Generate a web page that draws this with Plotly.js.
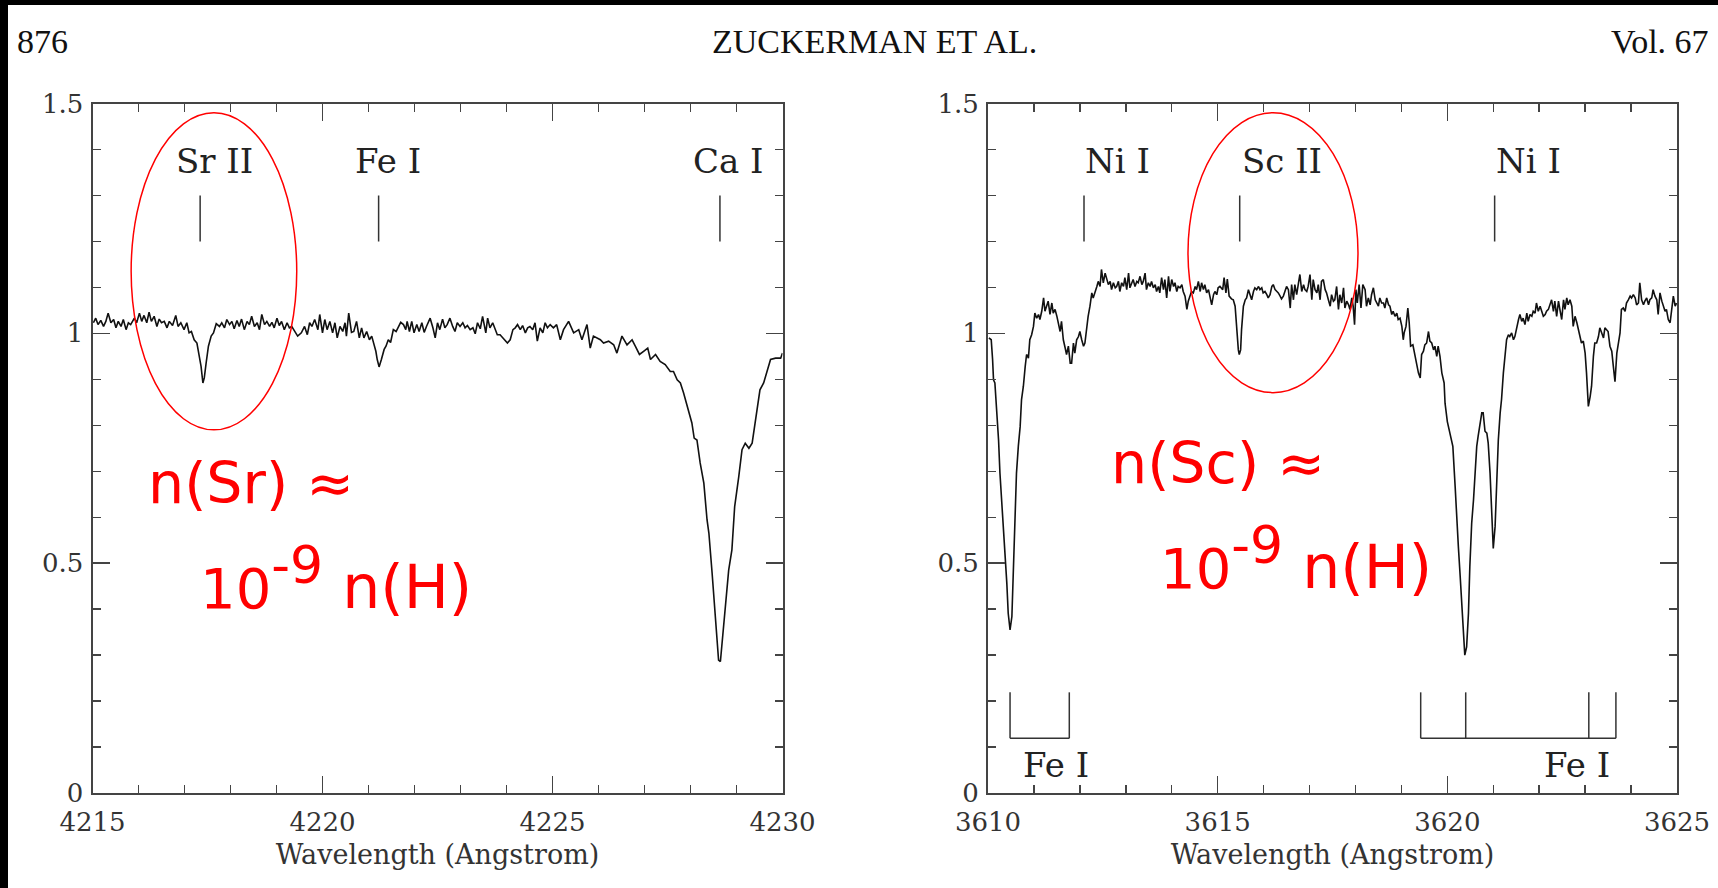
<!DOCTYPE html>
<html>
<head>
<meta charset="utf-8">
<script src="https://cdn.plot.ly/plotly-3.0.1.min.js"></script>
<style>
  html, body { margin: 0; padding: 0; background: #ffffff; }
  #chart { width: 1718px; height: 888px; }
</style>
</head>
<body>
<div id="chart"></div>
<script>
// ---------- Left panel: 4215-4230 A spectrum ----------
const lamL = [
4215.02,4215.07,4215.12,4215.18,4215.24,4215.29,4215.34,4215.40,4215.46,4215.51,
4215.56,4215.62,4215.67,4215.73,4215.78,4215.83,4215.91,4215.96,4216.02,4216.07,
4216.12,4216.18,4216.23,4216.28,4216.34,4216.40,4216.45,4216.50,4216.56,4216.62,
4216.67,4216.74,4216.81,4216.86,4216.92,4216.99,4217.05,4217.10,4217.15,4217.21,
4217.27,4217.32,4217.36,4217.40,4217.43,4217.47,4217.52,4217.58,4217.63,4217.69,
4217.76,4217.81,4217.87,4217.92,4217.98,4218.03,4218.08,4218.14,4218.19,4218.24,
4218.30,4218.36,4218.41,4218.46,4218.52,4218.58,4218.63,4218.68,4218.74,4218.79,
4218.85,4218.90,4218.95,4219.01,4219.06,4219.11,4219.17,4219.23,4219.28,4219.33,
4219.39,4219.46,4219.54,4219.61,4219.67,4219.72,4219.77,4219.83,4219.90,
4219.94,4220.00,4220.05,4220.10,4220.16,4220.22,4220.27,4220.32,4220.38,4220.44,
4220.49,4220.52,4220.57,4220.63,4220.68,4220.74,4220.80,4220.85,4220.90,4220.96,
4221.02,4221.07,4221.12,4221.16,4221.19,4221.23,4221.28,4221.34,4221.38,4221.43,
4221.48,4221.54,4221.60,4221.65,4221.70,4221.76,4221.81,4221.84,4221.89,4221.94,
4221.99,4222.05,4222.10,4222.16,4222.21,4222.26,4222.34,4222.40,4222.45,4222.50,
4222.55,4222.61,4222.66,4222.71,4222.77,4222.83,4222.88,4222.93,4222.99,4223.05,
4223.10,4223.15,4223.21,4223.27,4223.32,4223.37,4223.43,4223.48,4223.55,4223.59,
4223.64,4223.70,4223.75,4223.80,4223.86,4223.92,4223.97,4224.02,4224.08,4224.14,
4224.19,4224.24,4224.30,4224.35,4224.41,4224.46,4224.51,4224.57,4224.62,4224.67,
4224.73,4224.79,4224.84,4224.89,
4224.95,4225.02,4225.09,4225.17,4225.24,4225.35,4225.46,4225.57,4225.64,4225.75,
4225.82,4225.89,4226.04,4226.11,4226.22,4226.33,4226.40,4226.51,4226.62,4226.73,
4226.80,4226.89,4226.98,4227.07,4227.13,4227.24,4227.34,4227.45,4227.56,4227.63,
4227.71,4227.78,4227.85,4227.91,4227.96,4228.03,4228.08,4228.14,4228.21,4228.29,
4228.36,4228.40,4228.47,4228.54,4228.61,4228.65,4228.71,4228.78,4228.83,4228.90,
4228.96,4229.05,4229.12,4229.19,4229.27,4229.34,4229.38,4229.45,4229.51,4229.59,
4229.65,4229.74,4229.85,4229.96,4230.00
];
const fluxL = [
1.023,1.033,1.019,1.028,1.015,1.026,1.044,1.023,1.030,1.012,
1.026,1.015,1.030,1.008,1.023,1.019,1.033,1.023,1.044,1.026,
1.039,1.023,1.046,1.026,1.037,1.015,1.031,1.023,1.026,1.012,
1.026,1.017,1.039,1.015,1.023,1.008,1.023,1.001,1.004,0.986,
0.979,0.950,0.928,0.892,0.903,0.935,0.972,0.994,1.001,1.021,
1.015,1.023,1.012,1.030,1.019,1.026,1.010,1.028,1.015,1.031,
1.008,1.026,1.019,1.037,1.015,1.023,1.008,1.041,1.019,1.026,
1.015,1.024,1.012,1.033,1.017,1.026,1.008,1.023,1.012,1.015,
1.004,0.994,1.001,1.015,0.997,1.023,1.015,1.030,1.008,
1.041,1.001,1.030,1.008,1.026,1.001,1.023,0.990,1.015,1.004,
1.023,0.994,1.044,1.002,1.004,1.026,0.990,1.012,0.990,1.004,
0.986,0.994,0.975,0.961,0.943,0.927,0.943,0.965,0.972,0.986,
0.980,1.008,1.004,1.015,1.024,1.019,1.008,1.026,1.004,1.026,
1.001,1.019,1.004,1.023,1.002,1.015,1.033,1.012,0.990,1.023,
1.008,1.031,1.012,1.019,1.033,1.015,1.004,1.023,1.015,1.023,
1.012,1.017,1.008,1.012,0.999,1.023,1.010,1.037,1.001,1.033,
1.012,1.023,1.008,0.997,0.997,0.990,0.986,0.979,0.986,1.008,
1.012,1.019,1.008,1.017,1.001,1.012,1.015,1.008,1.023,0.983,
1.012,1.001,1.023,1.012,
1.019,1.012,1.019,0.986,1.008,1.026,1.001,1.008,0.986,1.019,
0.968,0.994,0.986,0.979,0.983,0.975,0.957,0.994,0.975,0.986,
0.972,0.954,0.961,0.968,0.943,0.954,0.939,0.932,0.917,0.917,
0.899,0.892,0.870,0.848,0.834,0.805,0.772,0.768,0.718,0.674,
0.594,0.565,0.478,0.376,0.289,0.286,0.355,0.427,0.485,0.529,
0.623,0.689,0.747,0.761,0.750,0.761,0.790,0.837,0.877,0.892,
0.914,0.943,0.946,0.946,0.957
];

// ---------- Right panel: 3610-3625 A spectrum ----------
const lamR = [
3610.02,3610.07,3610.10,3610.12,3610.15,3610.19,3610.23,3610.26,3610.30,3610.33,
3610.37,3610.41,3610.44,3610.48,3610.52,3610.55,3610.59,3610.62,3610.66,3610.70,
3610.73,3610.77,3610.81,3610.84,3610.88,3610.91,3610.95,3610.99,3611.02,3611.06,
3611.10,3611.13,3611.17,3611.21,3611.24,3611.28,3611.31,3611.35,3611.39,3611.42,
3611.46,3611.50,3611.53,3611.57,3611.60,3611.64,3611.68,3611.71,3611.75,3611.79,
3611.82,3611.86,3611.89,3611.93,3611.97,3612.00,3612.04,3612.08,3612.11,3612.15,
3612.18,3612.22,3612.26,3612.29,3612.33,3612.37,3612.40,3612.44,3612.47,3612.51,
3612.55,3612.58,3612.62,3612.66,3612.69,3612.73,3612.77,3612.80,3612.84,3612.87,
3612.91,3612.95,3612.98,3613.02,3613.06,3613.09,3613.13,3613.16,3613.20,3613.24,
3613.27,3613.31,3613.35,3613.38,3613.42,3613.45,3613.49,3613.53,3613.56,3613.60,
3613.64,3613.67,3613.71,3613.74,3613.78,3613.82,3613.85,3613.89,3613.93,3613.96,
3614.00,3614.04,3614.07,3614.11,3614.14,3614.18,3614.22,3614.25,3614.29,3614.33,
3614.36,3614.40,3614.43,3614.47,3614.51,3614.54,3614.58,3614.62,3614.65,3614.69,
3614.72,3614.76,3614.80,3614.83,3614.87,3614.91,3614.94,3614.98,3615.01,3615.05,
3615.11,3615.14,3615.18,3615.21,3615.25,3615.30,3615.34,3615.38,3615.40,3615.43,
3615.45,3615.47,3615.50,3615.52,3615.56,3615.60,3615.63,3615.67,3615.70,3615.74,
3615.78,3615.81,3615.85,3615.89,3615.92,3615.96,3615.99,3616.03,3616.07,3616.10,
3616.14,3616.18,3616.21,3616.25,3616.29,3616.32,3616.36,3616.39,3616.43,3616.47,
3616.50,3616.54,3616.58,3616.61,3616.65,3616.68,3616.72,3616.76,3616.79,3616.83,
3616.87,3616.90,3616.94,3616.97,3617.01,3617.05,3617.08,3617.12,3617.16,3617.19,
3617.23,3617.26,3617.30,3617.34,3617.37,3617.41,3617.45,3617.48,3617.52,3617.55,
3617.59,3617.63,3617.66,3617.70,3617.74,3617.77,3617.81,3617.85,3617.88,3617.92,
3617.95,3617.98,3618.01,3618.04,3618.08,3618.12,3618.16,3618.21,3618.24,3618.28,
3618.32,3618.35,3618.39,3618.43,3618.46,3618.50,3618.53,3618.57,3618.61,3618.64,
3618.68,3618.72,3618.75,3618.79,3618.82,3618.86,3618.90,3618.93,3618.97,3619.01,
3619.04,3619.06,3619.10,3619.14,3619.17,3619.20,3619.25,3619.30,3619.33,3619.37,
3619.41,3619.44,3619.48,3619.51,3619.55,3619.59,3619.62,3619.66,3619.70,3619.73,
3619.77,3619.80,3619.84,3619.88,3619.93,3619.95,3620.00,3620.06,3620.12,3620.17,
3620.20,3620.24,3620.28,3620.31,3620.35,3620.38,3620.42,3620.46,3620.49,3620.53,
3620.57,3620.60,3620.64,3620.67,3620.71,3620.75,3620.78,3620.82,3620.86,3620.89,
3620.93,3620.96,3621.00,3621.04,3621.07,3621.11,3621.15,3621.18,3621.22,3621.26,
3621.29,3621.33,3621.36,3621.40,3621.44,3621.47,3621.51,3621.55,3621.58,3621.62,
3621.65,3621.69,3621.73,3621.76,3621.80,3621.84,3621.87,3621.91,3621.94,3621.98,
3622.02,3622.05,3622.09,3622.13,3622.16,3622.20,3622.23,3622.27,3622.31,3622.34,
3622.38,3622.42,3622.45,3622.49,3622.53,3622.56,3622.60,3622.63,3622.67,3622.71,
3622.74,3622.78,3622.82,3622.85,3622.89,3622.92,3622.96,3623.00,3623.03,3623.07,
3623.11,3623.14,3623.18,3623.21,3623.25,3623.29,3623.32,3623.36,3623.40,3623.43,
3623.47,3623.50,3623.54,3623.58,3623.61,3623.65,3623.69,3623.72,3623.76,3623.79,
3623.83,3623.87,3623.90,3623.94,3623.98,3624.01,3624.05,3624.09,3624.12,3624.16,
3624.19,3624.23,3624.27,3624.30,3624.34,3624.38,3624.41,3624.45,3624.48,3624.52,
3624.56,3624.59,3624.63,3624.67,3624.70,3624.74,3624.77,3624.81,3624.85,3624.88,
3624.92,3624.96,3624.99
];
const fluxR = [
0.990,0.986,0.943,0.899,0.892,0.834,0.768,0.696,0.638,0.580,
0.522,0.456,0.391,0.355,0.384,0.478,0.587,0.696,0.754,0.797,
0.856,0.885,0.928,0.954,0.946,0.986,0.997,1.015,1.044,1.033,
1.041,1.030,1.048,1.077,1.048,1.059,1.070,1.041,1.066,1.044,
1.052,1.037,1.023,1.004,1.026,0.986,0.968,0.954,0.972,0.935,
0.935,0.979,0.957,0.986,0.993,1.004,0.986,0.972,0.979,1.015,
1.037,1.059,1.088,1.077,1.088,1.102,1.113,1.102,1.139,1.110,
1.131,1.117,1.106,1.113,1.095,1.110,1.099,1.102,1.113,1.091,
1.110,1.102,1.121,1.095,1.131,1.099,1.110,1.117,1.102,1.113,
1.110,1.124,1.106,1.113,1.131,1.095,1.110,1.102,1.113,1.099,
1.106,1.091,1.102,1.088,1.121,1.095,1.117,1.077,1.124,1.091,
1.117,1.102,1.110,1.091,1.102,1.099,1.106,1.091,1.081,1.052,
1.070,1.084,1.091,1.088,1.102,1.095,1.113,1.091,1.110,1.095,
1.106,1.088,1.095,1.081,1.062,1.084,1.091,1.084,1.099,1.102,
1.095,1.121,1.088,1.118,1.081,1.075,1.073,1.059,1.030,0.993,
0.964,0.954,0.964,1.008,1.059,1.073,1.077,1.095,1.084,1.073,
1.091,1.099,1.095,1.102,1.095,1.099,1.088,1.091,1.084,1.077,
1.084,1.102,1.106,1.095,1.091,1.088,1.081,1.075,1.081,1.091,
1.102,1.095,1.055,1.106,1.073,1.106,1.084,1.110,1.128,1.091,
1.106,1.095,1.091,1.102,1.128,1.073,1.117,1.095,1.088,1.106,
1.073,1.113,1.117,1.095,1.088,1.073,1.059,1.084,1.070,1.073,
1.102,1.052,1.084,1.066,1.099,1.055,1.070,1.062,1.052,1.077,
1.059,1.019,1.095,1.066,1.106,1.055,1.106,1.095,1.059,1.077,
1.062,1.084,1.099,1.073,1.066,1.059,1.077,1.066,1.066,1.055,
1.077,1.062,1.059,1.041,1.048,1.037,1.044,1.030,1.033,1.015,
0.986,1.001,1.015,1.055,1.023,0.972,0.975,0.950,0.928,0.914,
0.903,0.954,0.961,0.975,0.979,1.004,0.983,0.979,0.964,0.972,
0.950,0.972,0.950,0.914,0.892,0.848,0.808,0.783,0.754,0.667,
0.602,0.536,0.471,0.413,0.347,0.300,0.318,0.391,0.493,0.587,
0.638,0.696,0.754,0.776,0.808,0.827,0.827,0.787,0.783,0.761,
0.696,0.616,0.532,0.580,0.681,0.768,0.827,0.856,0.914,0.954,
0.986,0.997,0.993,1.001,0.986,0.993,1.015,1.030,1.041,1.026,
1.033,1.019,1.044,1.026,1.041,1.037,1.048,1.044,1.066,1.048,
1.059,1.048,1.037,1.041,1.048,1.052,1.062,1.073,1.048,1.070,
1.037,1.070,1.052,1.030,1.073,1.052,1.077,1.062,1.073,1.059,
1.015,1.037,1.023,1.008,0.986,0.979,0.983,0.957,0.914,0.841,
0.863,0.885,0.950,0.979,0.979,0.993,1.012,1.001,0.990,1.012,
1.008,1.004,0.972,0.961,0.932,0.895,0.957,0.975,1.001,1.052,
1.055,1.048,1.066,1.073,1.081,1.077,1.084,1.077,1.062,1.066,
1.110,1.073,1.062,1.070,1.077,1.062,1.073,1.077,1.095,1.081,
1.073,1.041,1.088,1.070,1.059,1.048,1.052,1.030,1.023,1.052,
1.081,1.059,1.066
];

// ---------- Line identifications ----------
const idLinesL  = [4217.34, 4221.22, 4228.64];
const idLabelsL = ["Sr II", "Fe I", "Ca I"];
const idLabelXL = [4217.65, 4221.42, 4228.82];
const idLinesR  = [3612.09, 3615.48, 3621.03];
const idLabelsR = ["Ni I", "Sc II", "Ni I"];
const idLabelXR = [3612.83, 3616.40, 3621.76];
const feGroup1  = [3610.48, 3611.77];
const feGroup2  = [3619.42, 3620.40, 3623.08, 3623.67];
const feLabelX  = [3611.48, 3622.83];
const feLabels  = ["Fe I", "Fe I"];

// axis ranges
const xRangeL = [4215, 4230];
const xRangeR = [3610, 3625];
const yRange  = [0, 1.5];

// ---------- helpers ----------
const W = 1718, H = 888;
const px = v => v / W;
const py = v => 1 - v / H;

function markerTrace(xs, xa, ya) {
  const x = [], y = [];
  xs.forEach(v => { x.push(v, v, null); y.push(1.2, 1.3, null); });
  return {x, y, xaxis: xa, yaxis: ya, mode: 'lines', type: 'scatter',
          line: {color: '#333', width: 1.5}, hoverinfo: 'skip', showlegend: false};
}
function bracketTrace(groups, xa, ya) {
  const x = [], y = [];
  groups.forEach(g => {
    g.forEach(v => { x.push(v, v, null); y.push(0.219, 0.119, null); });
    x.push(g[0], g[g.length - 1], null); y.push(0.119, 0.119, null);
  });
  return {x, y, xaxis: xa, yaxis: ya, mode: 'lines', type: 'scatter',
          line: {color: '#333', width: 1.5}, hoverinfo: 'skip', showlegend: false};
}

const traces = [
  {x: lamL, y: fluxL, xaxis: 'x', yaxis: 'y', type: 'scatter', mode: 'lines',
   line: {color: '#111', width: 1.6}, showlegend: false},
  {x: lamR, y: fluxR, xaxis: 'x2', yaxis: 'y2', type: 'scatter', mode: 'lines',
   line: {color: '#111', width: 1.6}, showlegend: false},
  markerTrace(idLinesL, 'x', 'y'),
  markerTrace(idLinesR, 'x2', 'y2'),
  bracketTrace([feGroup1, feGroup2], 'x2', 'y2')
];

const tickFont = {family: 'DejaVu Serif', size: 26, color: '#333'};
function xAxis(range, domain, anchor) {
  return {
    range, domain, anchor, dtick: 5, tick0: range[0],
    showline: true, linecolor: '#444', linewidth: 2, mirror: 'allticks',
    ticks: 'inside', ticklen: 17, tickwidth: 1.6, tickcolor: '#444',
    minor: {dtick: 1, ticks: 'inside', ticklen: 8, tickwidth: 1.4, tickcolor: '#444'},
    showgrid: false, zeroline: false, tickfont: tickFont, ticklabelstandoff: 5,
    title: {text: 'Wavelength (Angstrom)', font: {family: 'DejaVu Serif', size: 27, color: '#333'}, standoff: 9},
    automargin: false, fixedrange: true
  };
}
function yAxis(domain, anchor) {
  return {
    range: yRange, domain, anchor, dtick: 0.5, tick0: 0,
    showline: true, linecolor: '#444', linewidth: 2, mirror: 'allticks',
    ticks: 'inside', ticklen: 17, tickwidth: 1.6, tickcolor: '#444',
    minor: {dtick: 0.1, ticks: 'inside', ticklen: 8, tickwidth: 1.4, tickcolor: '#444'},
    showgrid: false, zeroline: false, tickfont: tickFont, ticklabelstandoff: 2,
    automargin: false, fixedrange: true
  };
}

const yDom = [py(793), py(103.5)];
const annotations = [];
idLabelsL.forEach((t, i) => annotations.push({x: idLabelXL[i], y: 1.374, xref: 'x', yref: 'y', text: t,
  showarrow: false, font: {family: 'DejaVu Serif', size: 34, color: '#222'}}));
idLabelsR.forEach((t, i) => annotations.push({x: idLabelXR[i], y: 1.374, xref: 'x2', yref: 'y2', text: t,
  showarrow: false, font: {family: 'DejaVu Serif', size: 34, color: '#222'}}));
feLabels.forEach((t, i) => annotations.push({x: feLabelX[i], y: 0.061, xref: 'x2', yref: 'y2', text: t,
  showarrow: false, font: {family: 'DejaVu Serif', size: 34, color: '#222'}}));

const redFont = {family: 'DejaVu Sans', size: 57, color: '#ff0000'};
const redFont2 = {family: 'DejaVu Sans', size: 60, color: '#ff0000'};
const line2 = '<span style="font-size:56px">10</span><sup><span style="font-size:52px">-9</span></sup> n(H)';
annotations.push(
  {x: px(146), y: py(483), xref: 'paper', yref: 'paper', xanchor: 'left', yanchor: 'middle',
   text: 'n(Sr) ≈', showarrow: false, font: redFont},
  {x: px(198), y: py(578), xref: 'paper', yref: 'paper', xanchor: 'left', yanchor: 'middle',
   text: line2, showarrow: false, font: redFont2},
  {x: px(1109), y: py(463), xref: 'paper', yref: 'paper', xanchor: 'left', yanchor: 'middle',
   text: 'n(Sc) ≈', showarrow: false, font: redFont},
  {x: px(1158), y: py(558), xref: 'paper', yref: 'paper', xanchor: 'left', yanchor: 'middle',
   text: line2, showarrow: false, font: redFont2}
);

const headFont = {family: 'Liberation Serif', size: 34, color: '#111'};
annotations.push(
  {x: px(15), y: py(42), xref: 'paper', yref: 'paper', xanchor: 'left', yanchor: 'middle',
   text: '876', showarrow: false, font: headFont},
  {x: px(874), y: py(42), xref: 'paper', yref: 'paper', xanchor: 'center', yanchor: 'middle',
   text: 'ZUCKERMAN ET AL.', showarrow: false, font: headFont},
  {x: px(1609), y: py(42), xref: 'paper', yref: 'paper', xanchor: 'left', yanchor: 'middle',
   text: 'Vol. 67', showarrow: false, font: headFont}
);

const shapes = [
  {type: 'circle', xref: 'x', yref: 'y', x0: 4215.84, x1: 4219.44, y0: 0.790, y1: 1.480,
   line: {color: '#ff0000', width: 1.5}},
  {type: 'circle', xref: 'x2', yref: 'y2', x0: 3614.354, x1: 3618.055, y0: 0.871, y1: 1.480,
   line: {color: '#ff0000', width: 1.5}},
  {type: 'rect', xref: 'paper', yref: 'paper', x0: 0, x1: 1, y0: py(5), y1: 1,
   fillcolor: '#000', line: {width: 0}, layer: 'above'},
  {type: 'rect', xref: 'paper', yref: 'paper', x0: 0, x1: px(8), y0: 0, y1: 1,
   fillcolor: '#000', line: {width: 0}, layer: 'above'}
];

const layout = {
  width: W, height: H,
  margin: {l: 0, r: 0, t: 0, b: 0, pad: 0},
  paper_bgcolor: '#fff', plot_bgcolor: '#fff',
  showlegend: false,
  xaxis: xAxis(xRangeL, [px(92.5), px(782.5)], 'y'),
  yaxis: yAxis(yDom, 'x'),
  xaxis2: xAxis(xRangeR, [px(988), px(1677)], 'y2'),
  yaxis2: yAxis(yDom, 'x2'),
  annotations, shapes
};

Plotly.newPlot('chart', traces, layout, {staticPlot: true, displayModeBar: false});
</script>
</body>
</html>
